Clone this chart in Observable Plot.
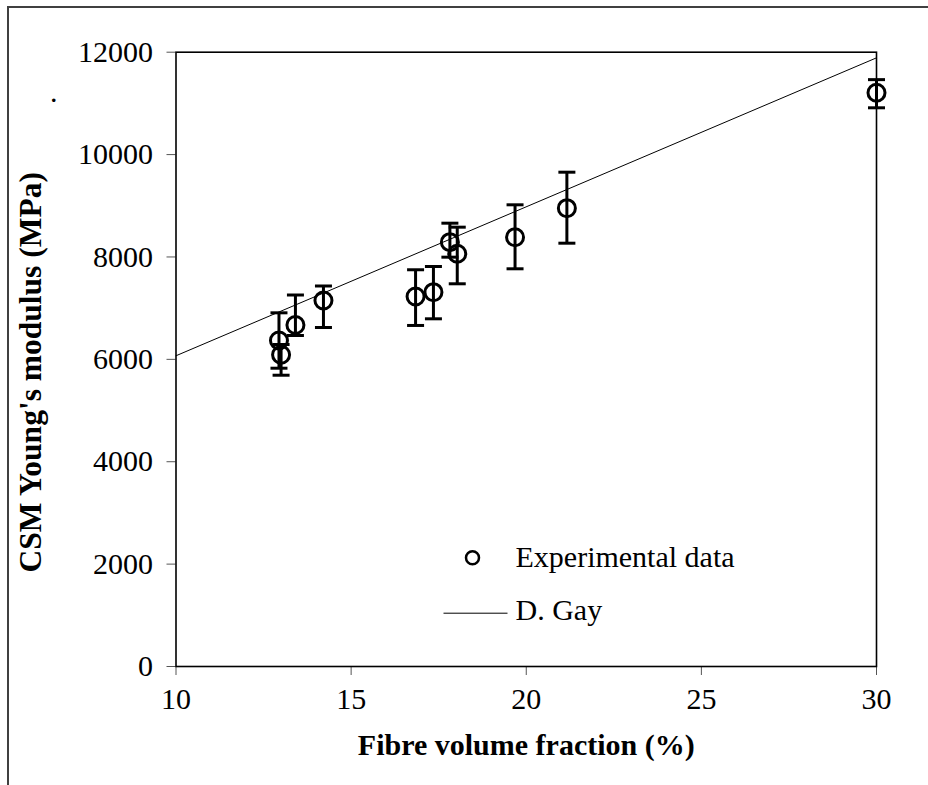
<!DOCTYPE html>
<html>
<head>
<meta charset="utf-8">
<script src="https://cdn.jsdelivr.net/npm/d3@7"></script>
<script src="https://cdn.jsdelivr.net/npm/@observablehq/plot@0.6"></script>
<style>
  html, body { margin: 0; padding: 0; background: #fff; }
  #wrap { position: relative; width: 928px; height: 785px; overflow: hidden; }
  #edge { position: absolute; left: 7px; top: 6px; right: -4px; bottom: -4px;
          border-top: 2px solid #404040; border-left: 2px solid #404040; pointer-events: none; }
  svg { font-family: "Liberation Serif", "Times New Roman", serif; }
</style>
</head>
<body>
<div id="wrap"><div id="edge"></div></div>
<script>
// Fibre volume fraction (%) of each specimen group
const fraction = [12.94, 13.0, 13.41, 14.21, 16.84, 17.35, 17.82, 18.03, 19.68, 21.16, 30.0];
// Measured CSM Young's modulus (MPa)
const modulus = [6368, 6089, 6671, 7150, 7228, 7312, 8289, 8062, 8386, 8953, 11207];
// Error bar limits (MPa)
const upper = [6909, 6290, 7257, 7433, 7750, 7814, 8660, 8582, 9019, 9656, 11464];
const lower = [5827, 5690, 6466, 6622, 6662, 6792, 7996, 7476, 7769, 8269, 10914];
// D. Gay prediction, evaluated at the ends of the axis
const gayFraction = [10, 30];
const gayModulus = [6070, 11890];
// Axis ticks
const xTicks = [10, 15, 20, 25, 30];
const yTicks = [0, 2000, 4000, 6000, 8000, 10000, 12000];

const points = fraction.map((x, i) => ({x, y: modulus[i], lo: lower[i], hi: upper[i]}));
const gay = gayFraction.map((x, i) => ({x, y: gayModulus[i]}));

// horizontal stroke used for error-bar caps and the legend line
const hbar = (half) => ({draw(ctx) { ctx.moveTo(-half, 0); ctx.lineTo(half, 0); }});

const FS = 30;
const chart = Plot.plot({
  width: 928,
  height: 785,
  marginLeft: 175.5,
  marginRight: 52,
  marginTop: 51.7,
  marginBottom: 119,
  style: {fontFamily: '"Liberation Serif", "Times New Roman", serif', background: "white", overflow: "visible"},
  x: {domain: [10, 30]},
  y: {domain: [0, 12000]},
  marks: [
    Plot.axisX({ticks: xTicks, tickSize: 9, tickPadding: 12, fontSize: FS, label: null, tickFormat: d => String(d), stroke: "#555", color: "#000"}),
    Plot.axisY({ticks: yTicks, tickSize: 9, tickPadding: 14, fontSize: FS, label: null, tickFormat: d => String(d), stroke: "#555", color: "#000"}),
    Plot.frame({stroke: "#000", strokeWidth: 1.6}),
    Plot.line(gay, {x: "x", y: "y", stroke: "#000", strokeWidth: 1}),
    Plot.ruleX(points, {x: "x", y1: "lo", y2: "hi", stroke: "#000", strokeWidth: 3}),
    Plot.dot(points, {x: "x", y: "lo", symbol: hbar(8.5), stroke: "#000", strokeWidth: 3, r: 1}),
    Plot.dot(points, {x: "x", y: "hi", symbol: hbar(8.5), stroke: "#000", strokeWidth: 3, r: 1}),
    Plot.dot(points, {x: "x", y: "y", r: 8.5, stroke: "#000", strokeWidth: 3, fill: "none"}),
    // axis titles
    Plot.text(["Fibre volume fraction (%)"], {frameAnchor: "bottom", dy: 79, text: d => d, fontSize: 30, fontWeight: "bold", textAnchor: "middle", lineAnchor: "middle", fill: "#000"}),
    Plot.text(["CSM Young's modulus (MPa)"], {frameAnchor: "left", dx: -145, dy: 13, rotate: -90, text: d => d, fontSize: 31.5, fontWeight: "bold", textAnchor: "middle", lineAnchor: "middle", fill: "#000"}),
    Plot.text(["."], {frameAnchor: "top-left", dx: -126, dy: 40, text: d => d, fontSize: 30, textAnchor: "start", lineAnchor: "middle", fill: "#000"}),
    // legend
    Plot.dot([0], {frameAnchor: "top-left", dx: 296.5, dy: 505.5, r: 6.5, stroke: "#000", strokeWidth: 2.5, fill: "none"}),
    Plot.text(["Experimental data"], {frameAnchor: "top-left", dx: 339.5, dy: 505.5, text: d => d, fontSize: 30, textAnchor: "start", lineAnchor: "middle", fill: "#000"}),
    Plot.dot([0], {frameAnchor: "top-left", dx: 299.5, dy: 561, symbol: hbar(32), r: 1, stroke: "#000", strokeWidth: 1}),
    Plot.text(["D. Gay"], {frameAnchor: "top-left", dx: 339.5, dy: 558, text: d => d, fontSize: 30, textAnchor: "start", lineAnchor: "middle", fill: "#000"})
  ]
});
document.getElementById("wrap").prepend(chart);
</script>
</body>
</html>
